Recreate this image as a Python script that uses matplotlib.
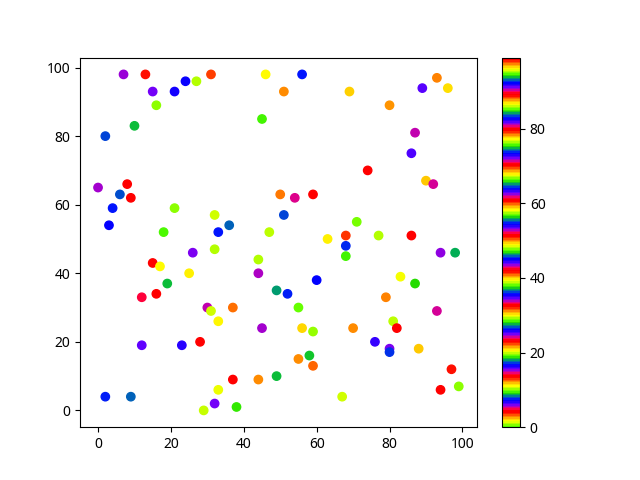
import numpy as np
import matplotlib
matplotlib.use("Agg")
import matplotlib.pyplot as plt

plt.rcParams['font.family'] = ['Noto Sans', 'DejaVu Sans']

# point positions
x = [7, 13, 15, 21, 24, 27, 31, 46, 16, 45,
     10, 2, 0, 8, 6, 9, 4, 3, 21, 32,
     36, 33, 18, 47, 26, 32, 56, 51, 69, 80,
     93, 89, 96, 87, 86, 74, 90, 92, 50, 54,
     59, 51, 71, 63, 68, 77, 86, 68, 94, 98,
     44, 15, 17, 25, 44, 19, 12, 16, 30, 31,
     33, 37, 45, 12, 23, 28, 37, 44, 33, 2,
     9, 29, 32, 38, 68, 60, 83, 87, 49, 52,
     79, 55, 93, 81, 82, 56, 59, 70, 76, 80,
     80, 88, 55, 58, 59, 49, 97, 94, 99, 67]
y = [98, 98, 93, 93, 96, 96, 98, 98, 89, 85,
     83, 80, 65, 66, 63, 62, 59, 54, 59, 57,
     54, 52, 52, 52, 46, 47, 98, 93, 93, 89,
     97, 94, 94, 81, 75, 70, 67, 66, 63, 62,
     63, 57, 55, 50, 51, 51, 51, 48, 46, 46,
     44, 43, 42, 40, 40, 37, 33, 34, 30, 29,
     26, 30, 24, 19, 19, 20, 9, 9, 6, 4,
     4, 0, 2, 1, 45, 38, 39, 37, 35, 34,
     33, 30, 29, 26, 24, 24, 23, 24, 20, 18,
     17, 18, 15, 16, 13, 10, 12, 6, 7, 4]
# colour values, estimated from the prism colours
c = [90.6, 88.6, 72.2, 63.5, 54.5, 48.1, 41.2, 29.8, 19.6, 9.6,
     93.8, 83.5, 71.7, 70.0, 55.1, 51.4, 35.6, 26.1, 19.7, 10.8,
     93.0, 82.9, 75.7, 67.0, 53.3, 48.1, 35.6, 31.2, 20.9, 12.2,
     97.4, 81.7, 77.7, 62.2, 53.5, 51.4, 40.0, 24.3, 21.7, 5.4,
     98.8, 83.5, 75.9, 67.7, 60.2, 48.1, 42.0, 26.6, 15.4, 8.6,
     95.4, 89.3, 77.3, 67.7, 52.7, 46.5, 33.2, 32.5, 14.9, 10.8,
     96.1, 88.0, 71.7, 62.7, 54.0, 51.4, 42.0, 31.2, 20.3, 7.7,
     93.0, 86.0, 72.2, 65.8, 56.8, 45.0, 39.3, 28.1, 18.1, 7.7,
     97.4, 85.3, 71.3, 67.0, 60.9, 49.3, 38.6, 31.2, 16.2, 5.9,
     92.7, 87.2, 78.5, 65.4, 59.6, 46.5, 41.7, 32.5, 19.4, 10.8]

fig = plt.figure(figsize=(6.4, 4.8), dpi=100)
plt.scatter(x, y, c=c, cmap='prism_r', vmin=0, vmax=99)
plt.colorbar()

fig.savefig('out.png')
